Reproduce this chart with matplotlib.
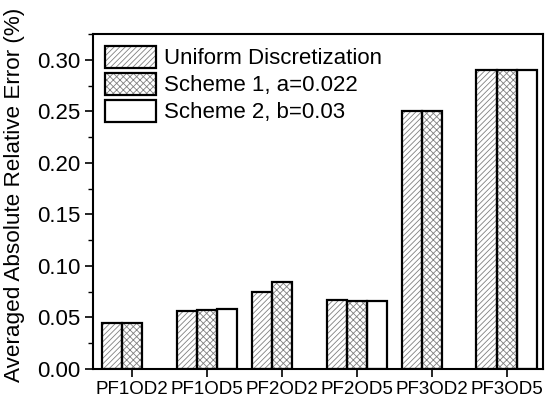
import numpy as np
import matplotlib
matplotlib.use("Agg")
import matplotlib.pyplot as plt
from matplotlib.ticker import MultipleLocator
from matplotlib.patches import Patch
from matplotlib.legend_handler import HandlerTuple

categories = ["PF1OD2", "PF1OD5", "PF2OD2", "PF2OD5", "PF3OD2", "PF3OD5"]
series_names = ["Uniform Discretization", "Scheme 1, a=0.022", "Scheme 2, b=0.03"]
uniform = [0.045, 0.056, 0.075, 0.067, 0.250, 0.290]
scheme1 = [0.045, 0.057, 0.084, 0.066, 0.250, 0.290]
scheme2 = [np.nan, 0.058, np.nan, 0.066, np.nan, 0.290]
y_ticks = [0.00, 0.05, 0.10, 0.15, 0.20, 0.25, 0.30]

plt.rcParams['font.family'] = ['Liberation Sans', 'DejaVu Sans']
plt.rcParams['hatch.linewidth'] = 0.6

fig = plt.figure(figsize=(5.5, 3.98), dpi=100)
ax = fig.add_axes([0.169, 0.0729, 0.818, 0.8417])

x = np.arange(len(categories))
w = 0.27
hatches = ['//////', 'xxxxx', '']
series = [uniform, scheme1, scheme2]
handles = []
for i, (vals, h, name) in enumerate(zip(series, hatches, series_names)):
    pos = x + (i - 1) * w
    ax.bar(pos, vals, width=w, color='white', edgecolor='#808080', hatch=h, linewidth=0, zorder=2)
    ax.bar(pos, vals, width=w, facecolor='none', edgecolor='black', linewidth=1.6, zorder=3)
    handles.append((Patch(facecolor='white', edgecolor='#808080', hatch=h, linewidth=0),
                    Patch(facecolor='none', edgecolor='black', linewidth=1.6)))

ax.legend(handles, series_names, handler_map={tuple: HandlerTuple(ndivide=1, pad=0)},
          loc='upper left', bbox_to_anchor=(0.0, 1.0), frameon=False, fontsize=16,
          handlelength=2.3, handleheight=1.15, labelspacing=0.16, handletextpad=0.36,
          borderaxespad=0.2, borderpad=0.32)

ax.set_xlim(-0.52, 5.48)
ax.set_ylim(0, 0.325)
ax.set_xticks(x)
ax.set_xticklabels(categories, fontsize=13.5)
ax.set_yticks(y_ticks)
ax.set_yticklabels([f"{v:.2f}" for v in y_ticks], fontsize=16)
ax.yaxis.set_minor_locator(MultipleLocator(0.025))
ax.tick_params(axis='both', which='major', direction='out', length=6, width=1.2, pad=3)
ax.tick_params(axis='y', which='minor', direction='out', length=3.5, width=1.0)
ax.tick_params(top=False, right=False)
for s in ax.spines.values():
    s.set_linewidth(1.5)
ax.set_ylabel("Averaged Absolute Relative Error (%)", fontsize=16.2)
ax.yaxis.set_label_coords(-0.15, 0.52)

fig.savefig("out.png", dpi=100)
